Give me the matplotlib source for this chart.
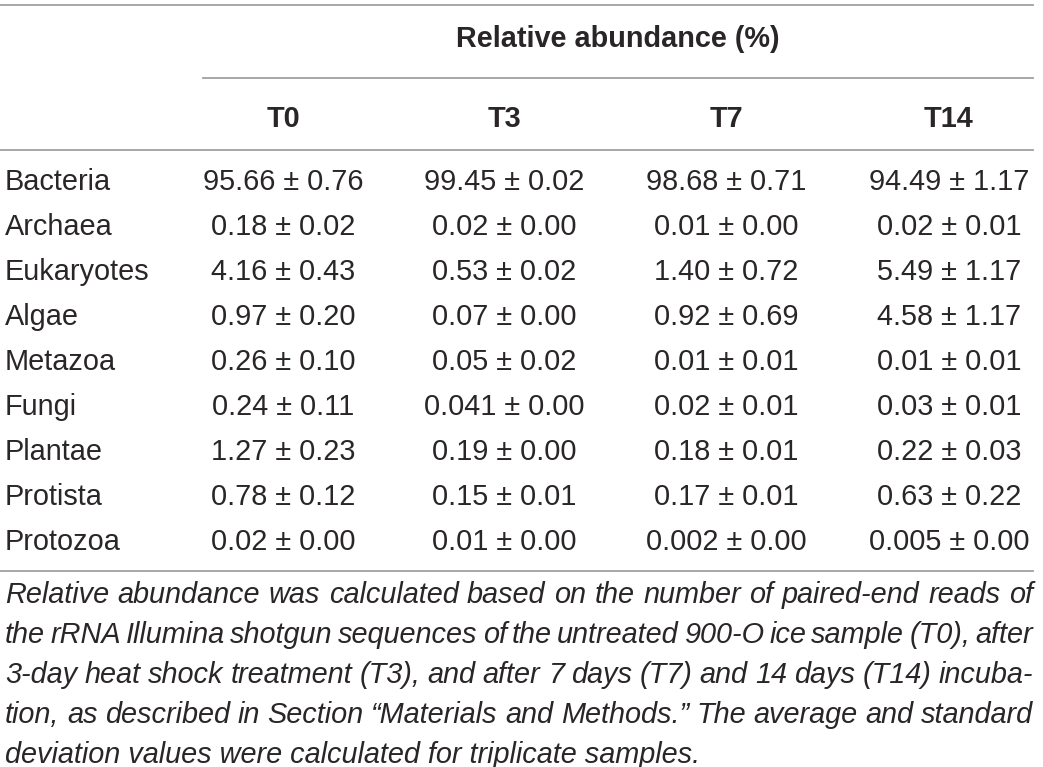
import matplotlib
matplotlib.use("Agg")
import matplotlib.pyplot as plt

# ---- data ----
group_title = "Relative abundance (%)"
columns = ["T0", "T3", "T7", "T14"]
taxa = ["Bacteria", "Archaea", "Eukaryotes", "Algae", "Metazoa", "Fungi",
        "Plantae", "Protista", "Protozoa"]
T0 = ["95.66 ± 0.76", "0.18 ± 0.02", "4.16 ± 0.43", "0.97 ± 0.20", "0.26 ± 0.10",
      "0.24 ± 0.11", "1.27 ± 0.23", "0.78 ± 0.12", "0.02 ± 0.00"]
T3 = ["99.45 ± 0.02", "0.02 ± 0.00", "0.53 ± 0.02", "0.07 ± 0.00", "0.05 ± 0.02",
      "0.041 ± 0.00", "0.19 ± 0.00", "0.15 ± 0.01", "0.01 ± 0.00"]
T7 = ["98.68 ± 0.71", "0.01 ± 0.00", "1.40 ± 0.72", "0.92 ± 0.69", "0.01 ± 0.01",
      "0.02 ± 0.01", "0.18 ± 0.01", "0.17 ± 0.01", "0.002 ± 0.00"]
T14 = ["94.49 ± 1.17", "0.02 ± 0.01", "5.49 ± 1.17", "4.58 ± 1.17", "0.01 ± 0.01",
       "0.03 ± 0.01", "0.22 ± 0.03", "0.63 ± 0.22", "0.005 ± 0.00"]
footnote_lines = [
    "Relative abundance was calculated based on the number of paired-end reads of",
    "the rRNA Illumina shotgun sequences of the untreated 900-O ice sample (T0), after",
    "3-day heat shock treatment (T3), and after 7 days (T7) and 14 days (T14) incuba-",
    "tion, as described in Section \u201cMaterials and Methods.\u201d The average and standard",
    "deviation values were calculated for triplicate samples.",
]

# ---- layout / style ----
W, H = 1043, 767
FONT = "Liberation Sans"
FS = 20.8
TXT = "#2a2627"
LINE = "#a0a0a0"
col_x = [283, 504, 726, 949]
row0, row_step = 190.5, 44.9
left, right = 5, 1033

fig = plt.figure(figsize=(W / 100, H / 100), dpi=100)
ax = fig.add_axes([0, 0, 1, 1])
ax.set_xlim(0, W)
ax.set_ylim(H, 0)
ax.axis("off")

# rules
ax.plot([0, right], [5, 5], color=LINE, lw=1.3)
ax.plot([203, right], [78, 78], color=LINE, lw=1.3)
ax.plot([0, right], [149.5, 149.5], color=LINE, lw=1.3)
ax.plot([0, right], [571, 571], color=LINE, lw=1.3)

# header
ax.text((203 + right) / 2, 47, group_title, ha="center", va="baseline",
        fontsize=FS, fontweight="bold", family=FONT, color=TXT)
for x, c in zip(col_x, columns):
    ax.text(x, 127, c, ha="center", va="baseline", fontsize=FS,
            fontweight="bold", family=FONT, color=TXT)

# body
data_cols = [T0, T3, T7, T14]
for i, name in enumerate(taxa):
    y = row0 + i * row_step
    ax.text(left, y, name, ha="left", va="baseline", fontsize=FS,
            family=FONT, color=TXT)
    for x, col in zip(col_x, data_cols):
        ax.text(x, y, col[i], ha="center", va="baseline", fontsize=FS,
                family=FONT, color=TXT)

# footnote (justified)
renderer = fig.canvas.get_renderer()
fy0, fstep = 603, 40
for j, line in enumerate(footnote_lines):
    y = fy0 + j * fstep
    words = line.split(" ")
    last = j == len(footnote_lines) - 1
    if last:
        ax.text(left, y, line, ha="left", va="baseline", fontsize=FS,
                family=FONT, style="italic", color=TXT)
        continue
    arts = []
    for w in words:
        t = ax.text(0, y, w, ha="left", va="baseline", fontsize=FS,
                    family=FONT, style="italic", color=TXT)
        arts.append(t)
    widths = [a.get_window_extent(renderer).width for a in arts]
    gap = (right - left - sum(widths)) / (len(words) - 1)
    x = left
    for a, wd in zip(arts, widths):
        a.set_x(x)
        x += wd + gap

fig.savefig("out.png", dpi=100)
